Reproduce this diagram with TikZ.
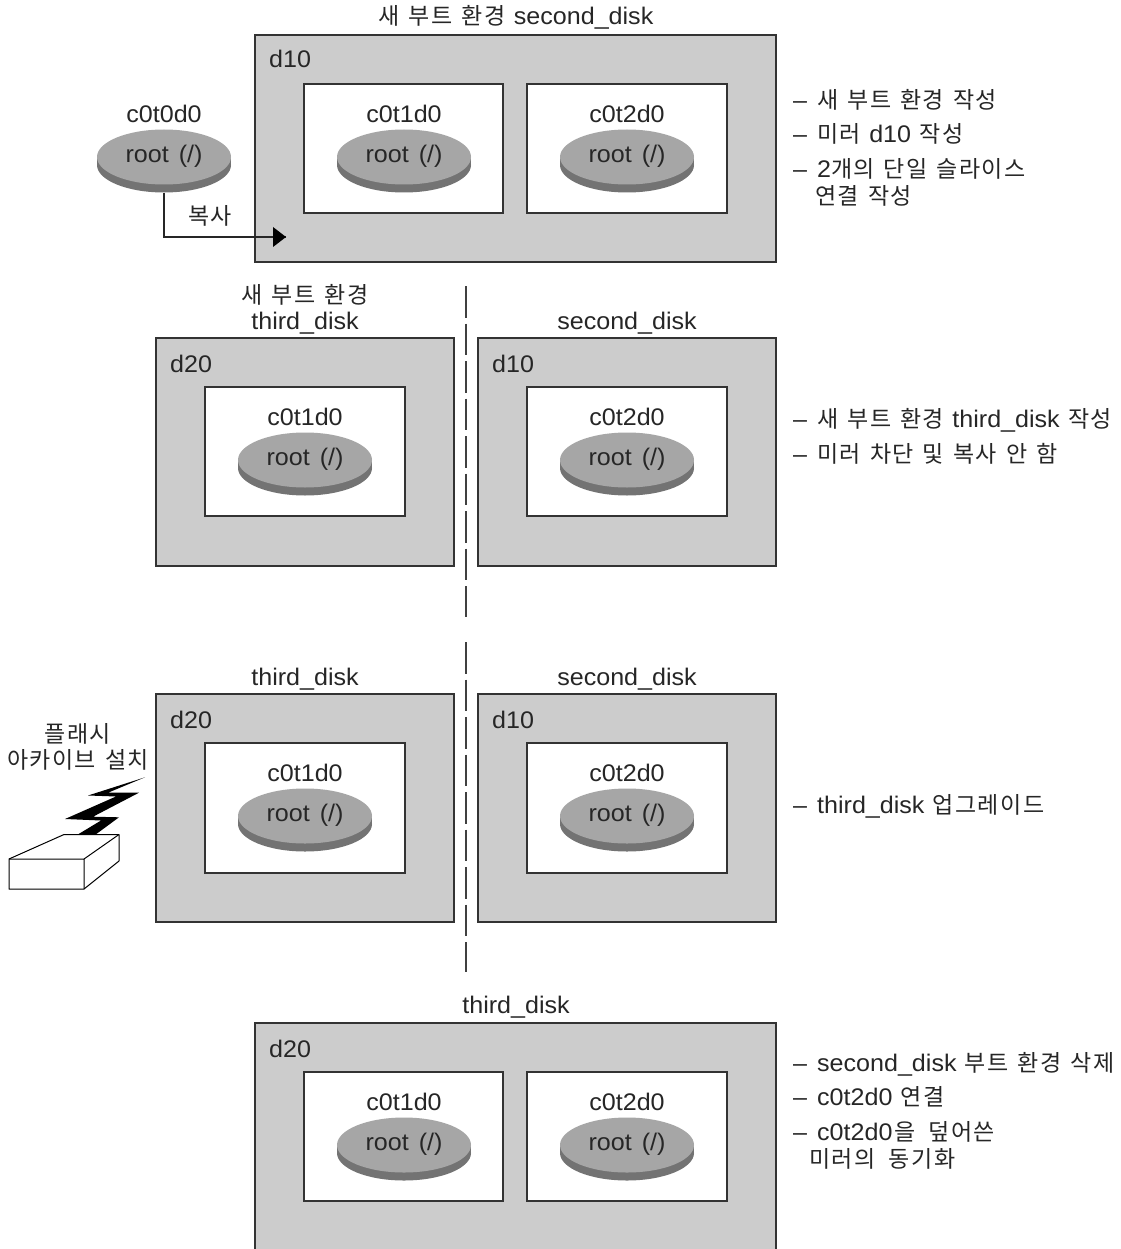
\documentclass[tikz,border=0pt]{standalone}
\usepackage{fontspec}
\setmainfont[FakeStretch=1.045,WordSpace=1.2]{Liberation Sans}
\newfontfamily\cjk[LetterSpace=6,WordSpace=1.4]{Noto Sans CJK KR}
\newcommand{\K}[1]{{\fontsize{23}{23}\selectfont\cjk #1}}
\newcommand{\Bar}{\makebox[24pt][l]{--}}
\usetikzlibrary{shapes.geometric}
\tikzset{
  x=1pt,y=-1pt,
  lbl/.style={inner sep=0pt,font=\fontsize{24}{24}\selectfont,text=black!85},
  lleft/.style={lbl,anchor=base west},
  outerbox/.style={draw=black!80,fill=black!20,line width=1.2pt},
  innerbox/.style={draw=black!80,fill=white,line width=1.2pt},
  diskside/.style={fill=black!55,draw=none},
  disktop/.style={fill=black!35,draw=none},
  cutline/.style={draw=black!75,line width=1.5pt,dash pattern=on 31.5pt off 6pt},
  flow/.style={draw=black!85,line width=1.2pt},
}
\newcommand{\Disk}[4]{% name, cx, cy(center top ellipse), label
  \node[diskside,ellipse,minimum width=134pt,minimum height=55pt,inner sep=0pt] (#1s) at (#2,#3+8) {};
  \fill[diskside] (#2-67,#3) rectangle (#2+67,#3+8);
  \node[disktop,ellipse,minimum width=134pt,minimum height=55pt,inner sep=0pt] (#1) at (#2,#3) {};
  \node[lbl] (#1t) at (#2,#3-1) {root\hspace{10pt}(/)};
  \node[lbl] (#1n) at (#2,#3-43) {#4};
}
\begin{document}
\begin{tikzpicture}
\useasboundingbox (0,0) rectangle (1120,1249);
% row 1
\node[lbl] (t1) at (516,17) {\K{새 부트 환경} second\_disk};
\draw[outerbox] (255,35) rectangle (776,262);
\node[lleft] (d1) at (269,68) {d10};
\draw[innerbox] (304,84) rectangle (503,213);
\draw[innerbox] (527,84) rectangle (727,213);
\Disk{a}{164}{157}{c0t0d0}
\Disk{b}{404}{157}{c0t1d0}
\Disk{c}{627}{157}{c0t2d0}
\node[lbl] (copy) at (210,216) {\K{복사}};
\coordinate (ah) at (286,237);
\draw[flow] (as.south) |- (ah);
\fill[black] (ah) -- (273,227) -- (273,247) -- cycle;
\node[lleft] (r1) at (793,109) {\Bar\K{새 부트 환경 작성}};
\node[lleft] (r2) at (793,143) {\Bar\K{미러} d10 \K{작성}};
\node[lleft] (r3) at (793,178) {\Bar 2\K{개의 단일 슬라이스}};
\node[lleft] (r4) at (815,205) {\K{연결 작성}};
% row 2
\node[lbl] (t2a) at (305,295) {\K{새 부트 환경}};
\node[lbl] (t2b) at (305,323) {third\_disk};
\node[lbl] (t2c) at (627,323) {second\_disk};
\draw[outerbox] (156,338) rectangle (454,566);
\draw[outerbox] (478,338) rectangle (776,566);
\node[lleft] (d2a) at (170,372) {d20};
\node[lleft] (d2b) at (492,372) {d10};
\draw[innerbox] (205,387) rectangle (405,516);
\draw[innerbox] (527,387) rectangle (727,516);
\Disk{e}{305}{460}{c0t1d0}
\Disk{f}{627}{460}{c0t2d0}
\node[lleft] (r5) at (793,427) {\Bar\K{새 부트 환경} third\_disk \K{작성}};
\node[lleft] (r6) at (793,462) {\Bar\K{미러 차단 및 복사 안 함}};
% row 3
\node[lbl] (t3b) at (305,679) {third\_disk};
\node[lbl] (t3c) at (627,679) {second\_disk};
\draw[outerbox] (156,694) rectangle (454,922);
\draw[outerbox] (478,694) rectangle (776,922);
\node[lleft] (d3a) at (170,728) {d20};
\node[lleft] (d3b) at (492,728) {d10};
\draw[innerbox] (205,743) rectangle (405,873);
\draw[innerbox] (527,743) rectangle (727,873);
\Disk{g}{305}{816}{c0t1d0}
\Disk{h}{627}{816}{c0t2d0}
\node[lleft] (r7) at (793,813) {\Bar third\_disk \K{업그레이드}};
\node[lbl] (f1) at (78,734) {\K{플래시}};
\node[lbl] (f2) at (78,760) {\K{아카이브 설치}};
\fill[black] (145,777.3) -- (88,795.5) -- (116,796.5) -- (65,819) -- (101,820.5) -- (77,835) -- (95,835) -- (119,817.3) -- (93,816.7) -- (139,792.7) -- (108,792.7) -- cycle;
\draw[black,line width=1pt,line join=round,fill=white] (9,859) -- (64,834.5) -- (119,834.5) -- (119,861) -- (84,889) -- (9,889) -- cycle;
\draw[black,line width=1pt] (9,859) -- (84,859) -- (119,834.5) (84,859) -- (84,889);
% row 4
\node[lbl] (t4) at (516,1007) {third\_disk};
\draw[outerbox] (255,1023) rectangle (776,1260);
\node[lleft] (d4) at (269,1057) {d20};
\draw[innerbox] (304,1072) rectangle (503,1201);
\draw[innerbox] (527,1072) rectangle (727,1201);
\Disk{i}{404}{1145}{c0t1d0}
\Disk{j}{627}{1145}{c0t2d0}
\node[lleft] (r8) at (793,1071) {\Bar second\_disk \K{부트 환경 삭제}};
\node[lleft] (r9) at (793,1105) {\Bar c0t2d0 \K{연결}};
\node[lleft] (r10) at (793,1140) {\Bar c0t2d0\hspace{2pt}\K{을\hspace{4pt} 덮어쓴}};
\node[lleft] (r11) at (809,1167) {\K{미러의\hspace{4pt} 동\hspace{2pt}기\hspace{2pt}화}};
% dividers
\draw[cutline] (466,286) -- (466,617);
\draw[cutline] (466,642) -- (466,972);
\end{tikzpicture}
\end{document}
